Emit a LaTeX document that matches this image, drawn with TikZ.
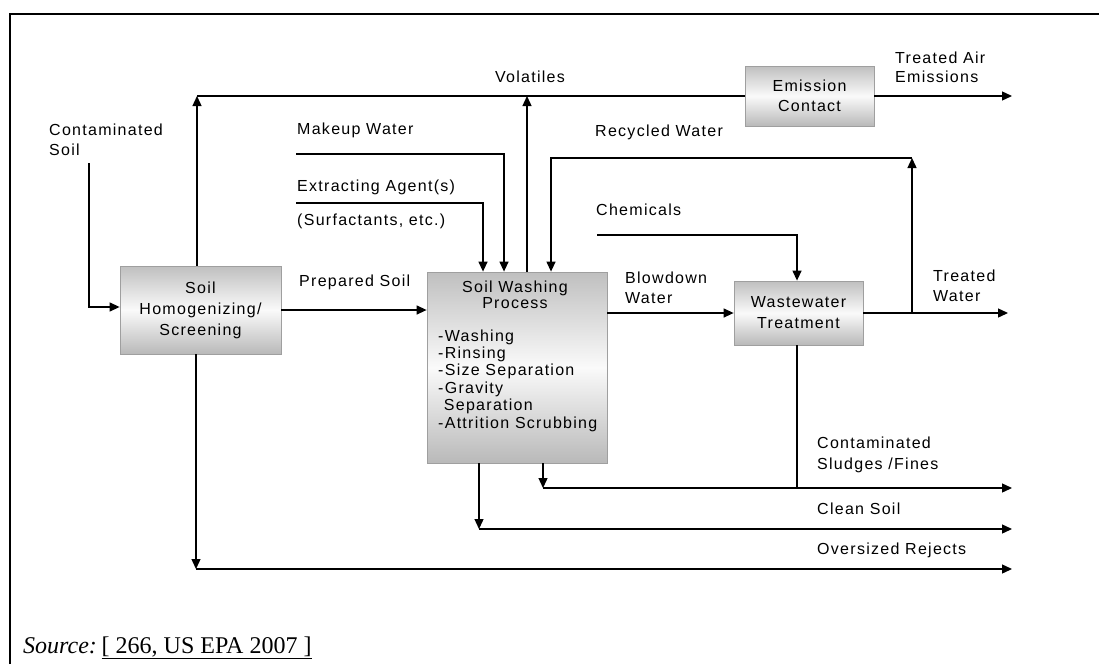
\documentclass[tikz,border=0pt]{standalone}
\usepackage{fontspec}
\setmainfont{Liberation Serif}
\newfontfamily\pxf[LetterSpace=8]{Liberation Sans}
\usetikzlibrary{arrows.meta}
\begin{document}
\begin{tikzpicture}[x=1pt,y=-1pt,
  lbl/.style={font=\pxf\fontsize{16}{20}\selectfont, inner sep=0pt, anchor=west, align=left},
  procbox/.style={draw=gray!75, line width=0.8pt, top color=gray!50, bottom color=gray!55, middle color=gray!4, inner sep=0pt, font=\pxf\fontsize{16}{21}\selectfont, align=center},
  flow/.style={line width=1.3pt},
  arr/.style={flow, -{Triangle[length=10pt,width=9pt]}}]
\useasboundingbox (0,0) rectangle (1099,664);
% frame
\draw[line width=2pt] (10,664) -- (10,14) -- (1099,14);

% process boxes
\node[procbox, minimum width=161pt, minimum height=88pt] (homog) at (200.5,310) {Soil\\Homogenizing/\\Screening};
\node[procbox, minimum width=180pt, minimum height=191pt] (wash) at (517,367.5) {};
\node[font=\pxf\fontsize{16}{16.5}\selectfont, align=center, inner sep=0pt] (washt) at (515,295) {Soil Washing\\Process};
\node[font=\pxf\fontsize{16}{17.4}\selectfont, align=left, inner sep=0pt, anchor=west] (washl) at (438,380.5) {-Washing\\-Rinsing\\-Size Separation\\-Gravity\\\ Separation\\-Attrition Scrubbing};
\node[procbox, minimum width=129pt, minimum height=64pt] (wwt) at (798.5,313) {Wastewater\\Treatment};
\node[procbox, minimum width=129pt, minimum height=60pt, font=\pxf\fontsize{16}{20}\selectfont] (emis) at (809.5,96) {Emission\\Contact};

% labels
\node[lbl] (lcs) at (49,140) {Contaminated\\Soil};
\node[lbl] (lmw) at (297,130) {Makeup Water};
\node[lbl] (lea) at (297,187) {Extracting Agent(s)};
\node[lbl] (lsu) at (297,221) {(Surfactants, etc.)};
\node[lbl, anchor=center] (lvo) at (530,77) {Volatiles};
\node[lbl] (lrw) at (595,132) {Recycled Water};
\node[lbl] (lch) at (596,210) {Chemicals};
\node[lbl, font=\pxf\fontsize{16}{19}\selectfont] (lta) at (895,67.5) {Treated Air\\Emissions};
\node[lbl] (lps) at (299,282) {Prepared Soil};
\node[lbl] (lbw) at (625,288) {Blowdown\\Water};
\node[lbl] (ltw) at (933,286) {Treated\\Water};
\node[lbl, font=\pxf\fontsize{16}{21}\selectfont] (lsf) at (817,454.5) {Contaminated\\Sludges /Fines};
\node[lbl] (lcl) at (817,509) {Clean Soil};
\node[lbl] (lov) at (817,550) {Oversized Rejects};
\node[inner sep=0pt, anchor=west, font=\fontsize{24}{27}\selectfont] (src) at (23,648) {\textit{Source:}\hspace{0.2em}\underline{[ 266, US EPA 2007 ]}};

% coordinates
\coordinate (cs0) at (89,163);
\coordinate (cs1) at (89,307);
\coordinate (mw0) at (296,154);
\coordinate (mw1) at (504,154);
\coordinate (ea0) at (296,203);
\coordinate (ea1) at (483,203);
\coordinate (vo0) at (197,96);
\coordinate (vo1) at (527,96);
\coordinate (ta) at (1012,96);
\coordinate (rc0) at (912,313);
\coordinate (rc1) at (912,158);
\coordinate (rc2) at (551,158);
\coordinate (ch0) at (597,235);
\coordinate (ch1) at (797,235);
\coordinate (tw) at (1008,313);
\coordinate (sf0) at (543,488);
\coordinate (sf1) at (1012,488);
\coordinate (cl0) at (479,529);
\coordinate (cl1) at (1012,529);
\coordinate (ov0) at (196,569);
\coordinate (ov1) at (1012,569);

% connectors
\draw[arr] (cs0) -- (cs1) -- (homog.west |- cs1);
\draw[arr] (homog.east) -- (wash.west |- homog.east);
\draw[arr] (mw0) -- (mw1) -- (mw1 |- wash.north);
\draw[arr] (ea0) -- (ea1) -- (ea1 |- wash.north);
\draw[arr] (homog.north -| vo0) -- (vo0);
\draw[flow] (vo0) -- (emis.west);
\draw[arr] (wash.north -| vo1) -- (vo1);
\draw[arr] (emis.east) -- (ta);
\draw[arr] (wash.east |- wwt.west) -- (wwt.west);
\draw[arr] (wwt.east) -- (tw);
\draw[arr] (rc0) -- (rc1);
\draw[arr] (rc1) -- (rc2) -- (rc2 |- wash.north);
\draw[arr] (ch0) -- (ch1) -- (ch1 |- wwt.north);
\draw[flow] (wwt.south -| ch1) -- (ch1 |- sf0);
\draw[arr] (wash.south -| sf0) -- (sf0);
\draw[arr] (sf0) -- (sf1);
\draw[arr] (wash.south -| cl0) -- (cl0);
\draw[arr] (cl0) -- (cl1);
\draw[arr] (homog.south -| ov0) -- (ov0);
\draw[arr] (ov0) -- (ov1);
\end{tikzpicture}
\end{document}
